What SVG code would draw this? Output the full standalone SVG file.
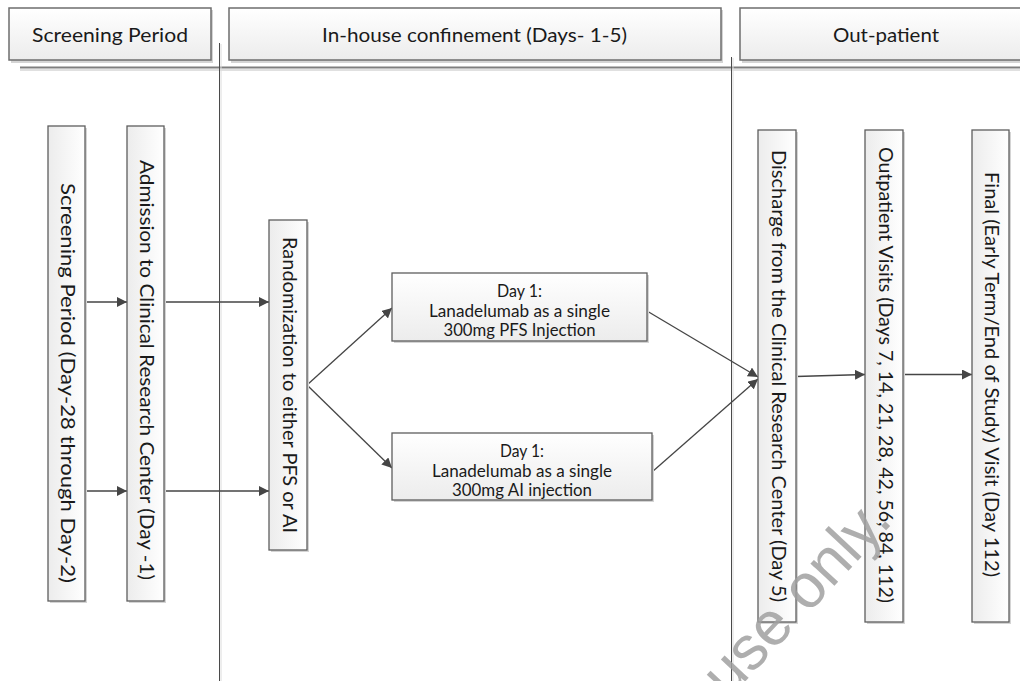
<svg xmlns="http://www.w3.org/2000/svg" width="1020" height="681" viewBox="0 0 1020 681">
<defs>
  <linearGradient id="gH" x1="0" y1="0" x2="0" y2="1">
    <stop offset="0" stop-color="#ffffff"/>
    <stop offset="1" stop-color="#ececec"/>
  </linearGradient>
  <linearGradient id="gV" x1="1" y1="0" x2="0" y2="0">
    <stop offset="0" stop-color="#ffffff"/>
    <stop offset="1" stop-color="#ececec"/>
  </linearGradient>
  <marker id="arr" viewBox="0 0 10 10" refX="10" refY="5" markerWidth="10" markerHeight="10" markerUnits="userSpaceOnUse" orient="auto">
    <path d="M0,0 L10,5 L0,10 z" fill="#454545"/>
  </marker>
  <style>
    .hdr{fill:url(#gH);stroke:#6e6e6e;stroke-width:1.5}
    .box{fill:url(#gH);stroke:#5e5e5e;stroke-width:1.3}
    .vbox{fill:url(#gV);stroke:#5e5e5e;stroke-width:1.3}
    .shd{fill:#d4d4d4;stroke:none}
    .t{font-family:Lato,"Liberation Sans",sans-serif;fill:#1a1a1a}
    .th{font-size:20px}
    .tb{font-size:16.5px}
    .tv{font-size:18.5px}
    .con{stroke:#454545;stroke-width:1.3;fill:none;marker-end:url(#arr)}
    .sep{stroke:#4a4a4a;stroke-width:1}
    .seps{stroke:#dcdcdc;stroke-width:1}
  </style>
</defs>
<rect width="1020" height="681" fill="#ffffff"/>

<g id="separators">
  <line x1="20" y1="70" x2="1020" y2="70" stroke="#d6d6d6" stroke-width="1.5"/>
  <line x1="20" y1="67.5" x2="1020" y2="67.5" stroke="#7e7e7e" stroke-width="1.8"/>
  <line class="seps" x1="221" y1="44" x2="221" y2="681"/>
  <line class="sep" x1="219.5" y1="43" x2="219.5" y2="681"/>
  <line class="seps" x1="733" y1="58" x2="733" y2="681"/>
  <line class="sep" x1="731.5" y1="57" x2="731.5" y2="681"/>
</g>

<g id="hdr-screening">
  <rect class="shd" x="11" y="10" width="202" height="53"/>
  <rect class="hdr" x="9" y="8" width="202" height="52"/>
  <text class="t th" x="110" y="42" text-anchor="middle" textLength="156" lengthAdjust="spacingAndGlyphs">Screening Period</text>
</g>
<g id="hdr-inhouse">
  <rect class="shd" x="231" y="10" width="492" height="53"/>
  <rect class="hdr" x="229" y="8" width="492" height="52"/>
  <text class="t th" x="474.5" y="42" text-anchor="middle" textLength="305" lengthAdjust="spacingAndGlyphs">In-house confinement (Days- 1-5)</text>
</g>
<g id="hdr-outpatient">
  <rect class="shd" x="742" y="10" width="292" height="53"/>
  <rect class="hdr" x="740" y="8" width="292" height="52"/>
  <text class="t th" x="886" y="42" text-anchor="middle" textLength="106" lengthAdjust="spacingAndGlyphs">Out-patient</text>
</g>

<g id="connectors">
  <line class="con" x1="85" y1="302" x2="127" y2="302"/>
  <line class="con" x1="85" y1="491" x2="127" y2="491"/>
  <line class="con" x1="164" y1="302" x2="269" y2="302"/>
  <line class="con" x1="164" y1="491" x2="269" y2="491"/>
  <line class="con" x1="307" y1="385" x2="392" y2="308"/>
  <line class="con" x1="307" y1="385" x2="392" y2="468"/>
  <line class="con" x1="647" y1="311" x2="758" y2="377"/>
  <line class="con" x1="652" y1="472" x2="758" y2="379"/>
  <line class="con" x1="796" y1="376.5" x2="865" y2="374.5"/>
  <line class="con" x1="903" y1="374.5" x2="972" y2="374.5"/>
</g>

<g id="node-screening">
  <rect class="shd" x="50" y="128" width="37" height="475"/>
  <rect class="vbox" x="48" y="126" width="37" height="475"/>
  <text class="t tv" x="61" y="383" transform="rotate(90 61 383)" text-anchor="middle" textLength="400" lengthAdjust="spacingAndGlyphs">Screening Period (Day-28 through Day-2)</text>
</g>
<g id="node-admission">
  <rect class="shd" x="129" y="128" width="37" height="475"/>
  <rect class="vbox" x="127" y="126" width="37" height="475"/>
  <text class="t tv" x="139.5" y="370" transform="rotate(90 139.5 370)" text-anchor="middle" textLength="420" lengthAdjust="spacingAndGlyphs">Admission to Clinical Research Center (Day -1)</text>
</g>
<g id="node-randomization">
  <rect class="shd" x="271" y="222" width="38" height="330"/>
  <rect class="vbox" x="269" y="220" width="38" height="330"/>
  <text class="t tv" x="282.5" y="385" transform="rotate(90 282.5 385)" text-anchor="middle" textLength="296" lengthAdjust="spacingAndGlyphs">Randomization to either PFS or AI</text>
</g>
<g id="node-pfs">
  <rect class="shd" x="394" y="275" width="255" height="68"/>
  <rect class="box" x="392" y="273" width="255" height="68"/>
  <text class="t tb" x="519.5" y="297" text-anchor="middle" textLength="45" lengthAdjust="spacingAndGlyphs">Day 1:</text>
  <text class="t tb" x="519.5" y="316.5" text-anchor="middle" textLength="181" lengthAdjust="spacingAndGlyphs">Lanadelumab as a single</text>
  <text class="t tb" x="519.5" y="336" text-anchor="middle" textLength="152" lengthAdjust="spacingAndGlyphs">300mg PFS Injection</text>
</g>
<g id="node-ai">
  <rect class="shd" x="394" y="435" width="260" height="67"/>
  <rect class="box" x="392" y="433" width="260" height="67"/>
  <text class="t tb" x="522" y="457" text-anchor="middle" textLength="44" lengthAdjust="spacingAndGlyphs">Day 1:</text>
  <text class="t tb" x="522" y="476.5" text-anchor="middle" textLength="180" lengthAdjust="spacingAndGlyphs">Lanadelumab as a single</text>
  <text class="t tb" x="522" y="496" text-anchor="middle" textLength="140" lengthAdjust="spacingAndGlyphs">300mg AI injection</text>
</g>
<g id="node-discharge">
  <rect class="shd" x="760" y="132" width="38" height="492"/>
  <rect class="vbox" x="758" y="130" width="38" height="492"/>
  <text class="t tv" x="771.5" y="376" transform="rotate(90 771.5 376)" text-anchor="middle" textLength="452" lengthAdjust="spacingAndGlyphs">Discharge from the Clinical Research Center (Day 5)</text>
</g>
<g id="node-outpatient">
  <rect class="shd" x="867" y="132" width="38" height="492"/>
  <rect class="vbox" x="865" y="130" width="38" height="492"/>
  <text class="t tv" x="878.5" y="375" transform="rotate(90 878.5 375)" text-anchor="middle" textLength="456" lengthAdjust="spacingAndGlyphs">Outpatient Visits (Days 7, 14, 21, 28, 42, 56, 84, 112)</text>
</g>
<g id="node-final">
  <rect class="shd" x="974" y="132" width="37" height="492"/>
  <rect class="vbox" x="972" y="130" width="37" height="492"/>
  <text class="t tv" x="985" y="374.5" transform="rotate(90 985 374.5)" text-anchor="middle" textLength="405" lengthAdjust="spacingAndGlyphs">Final (Early Term/End of Study) Visit (Day 112)</text>
</g>

<g id="watermark">
  <text x="728" y="700" transform="rotate(-47 728 700)" font-family="'Liberation Sans',Arial,sans-serif" font-size="62" fill="#a0a0a0" fill-opacity="0.85">use only.</text>
</g>
</svg>
